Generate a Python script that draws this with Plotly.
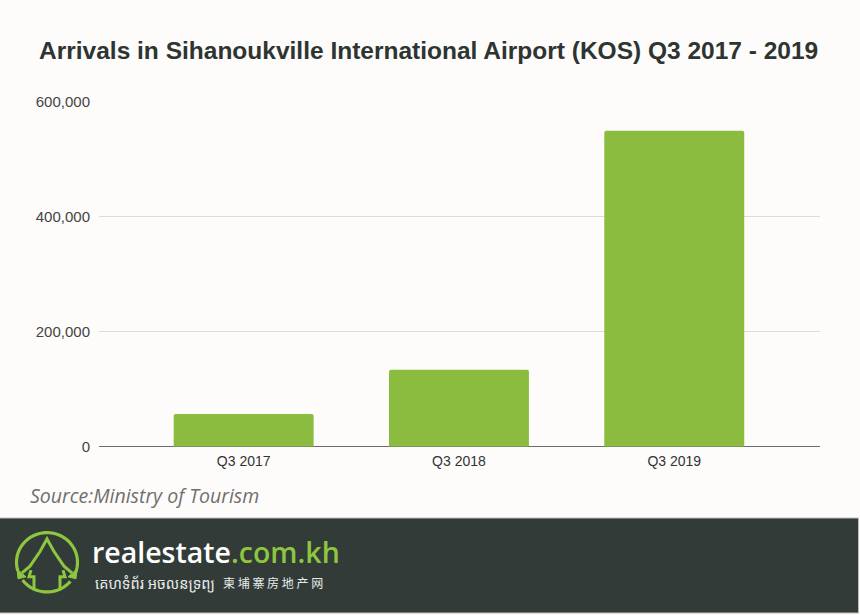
import plotly.graph_objects as go
import math

# ---- data ----
categories = ["Q3 2017", "Q3 2018", "Q3 2019"]
arrivals = [57000, 134000, 549000]
y_tick_vals = [0, 200000, 400000, 600000]
y_tick_text = ["0", "200,000", "400,000", "600,000"]

W, H = 860, 615
def px(x): return x / W
def py(y): return 1 - y / H
def to_path(points, close=False):
    s = "M " + " L ".join(f"{px(x):.5f},{py(y):.5f}" for x, y in points)
    return s + (" Z" if close else "")

BG = "#fdfcfb"
GREEN = "#8bbb3f"
FOOT = "#323b38"
LOGO_GREEN = "#8dc63f"

fig = go.Figure()
fig.add_trace(go.Bar(
    x=categories, y=arrivals,
    marker=dict(color=GREEN, line=dict(width=0), cornerradius=2),
    width=0.65,
    hoverinfo="x+y",
))

shapes = []
# footer
shapes.append(dict(type="rect", xref="paper", yref="paper",
                   x0=-0.01, x1=px(858.5), y0=-0.01, y1=py(523.5),
                   fillcolor=FOOT, line=dict(color="#b9bcbb", width=1), layer="below"))

# logo ring (two arcs with gaps near the eaves)
cx, cy, r = 47, 569, 30.5
def arc(a0, a1, n=50):
    pts = []
    for i in range(n + 1):
        a = math.radians(a0 + (a1 - a0) * i / n)
        pts.append((cx + r * math.cos(a), cy - r * math.sin(a)))
    return pts
for a0, a1 in [(-20, 197), (217, 320)]:
    shapes.append(dict(type="path", xref="paper", yref="paper", path=to_path(arc(a0, a1)),
                       line=dict(color=LOGO_GREEN, width=3.2)))
# house: pointed roof with eaves, walls down
roof = [(22, 580), (30, 573), (40, 558), (47, 545), (54, 558), (64, 573), (72, 580)]
shapes.append(dict(type="path", xref="paper", yref="paper", path=to_path(roof),
                   line=dict(color=LOGO_GREEN, width=3)))
walls = [(34, 598), (34, 584), (29, 584), (31, 577)]
shapes.append(dict(type="path", xref="paper", yref="paper", path=to_path(walls),
                   line=dict(color=LOGO_GREEN, width=3)))
walls_r = [(60, 598), (60, 584), (65, 584), (63, 577)]
shapes.append(dict(type="path", xref="paper", yref="paper", path=to_path(walls_r),
                   line=dict(color=LOGO_GREEN, width=3)))
# arrow heads at eaves
for tri in [[(17, 576), (26, 584), (18, 586)], [(77, 576), (68, 584), (76, 586)]]:
    shapes.append(dict(type="path", xref="paper", yref="paper", path=to_path(tri, True),
                       fillcolor=LOGO_GREEN, line=dict(color=LOGO_GREEN, width=1)))

annotations = [
    dict(text="<b>Arrivals in Sihanoukville International Airport (KOS) Q3 2017 - 2019</b>",
         x=px(428), y=py(42.5), xref="paper", yref="paper", showarrow=False,
         xanchor="center", yanchor="middle",
         font=dict(family="Liberation Sans, Arial", size=24.5, color="#2e3431")),
    dict(text="<i>Source:Ministry of Tourism</i>",
         x=px(28), y=py(500), xref="paper", yref="paper", showarrow=False,
         xanchor="left", yanchor="middle",
         font=dict(family="Open Sans", size=19.5, color="#6f6f6f")),
    dict(text="<span style='color:#ffffff'>realestate</span><span style='color:%s'>.com.kh</span>" % LOGO_GREEN,
         x=px(90), y=py(558), xref="paper", yref="paper", showarrow=False,
         xanchor="left", yanchor="middle",
         font=dict(family="Open Sans", size=28.5, color="#ffffff", weight=600)),
    dict(text="គេហទំព័រ អចលនទ្រព្យ",
         x=px(93), y=py(590), xref="paper", yref="paper", showarrow=False,
         xanchor="left", yanchor="middle",
         font=dict(family="Noto Sans Khmer, Noto Sans, Noto Sans CJK SC", size=14.5, color="#e8ece9")),
    dict(text="柬 埔 寨 房 地 产 网",
         x=px(221), y=py(590), xref="paper", yref="paper", showarrow=False,
         xanchor="left", yanchor="middle",
         font=dict(family="Noto Sans CJK SC", size=12, color="#e8ece9")),
]

fig.update_layout(
    width=W, height=H,
    margin=dict(l=0, r=0, t=0, b=0),
    paper_bgcolor=BG, plot_bgcolor=BG,
    showlegend=False,
    shapes=shapes,
    annotations=annotations,
    xaxis=dict(domain=[px(99), px(820)], range=[-0.672, 2.677],
               showgrid=False, ticks="", showline=False, ticklabelstandoff=4,
               tickfont=dict(family="Liberation Sans, Arial", size=14, color="#333333"),
               fixedrange=True),
    yaxis=dict(domain=[py(450.3), py(95)], range=[0, 600000],
               tickvals=y_tick_vals, ticktext=y_tick_text,
               showgrid=True, gridcolor="#dcdcdc", gridwidth=1,
               zeroline=True, zerolinecolor="#6b6b6b", zerolinewidth=1.3,
               showline=False, ticks="", ticklabelstandoff=8,
               tickfont=dict(family="Liberation Sans, Arial", size=15, color="#444444"),
               fixedrange=True),
)

fig.write_html("out.html")
